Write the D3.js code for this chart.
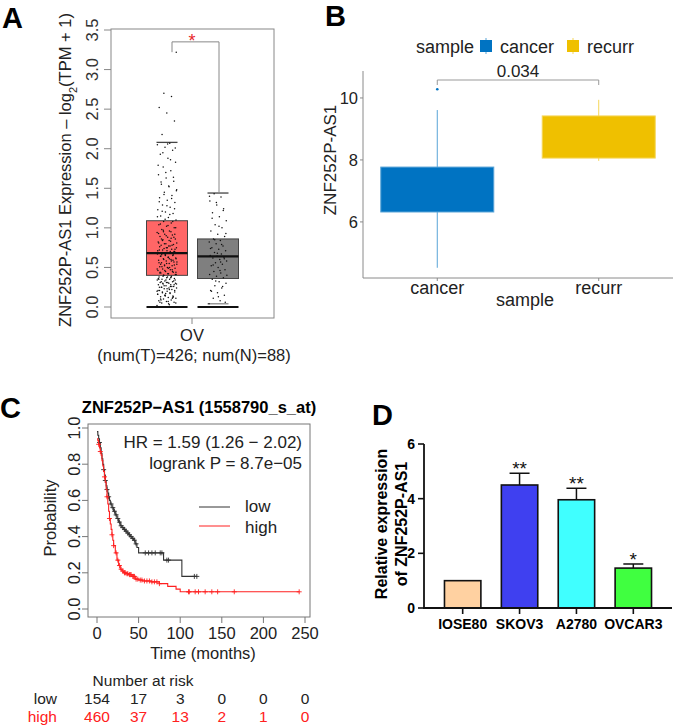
<!DOCTYPE html>
<html>
<head>
<meta charset="utf-8">
<script src="https://cdn.jsdelivr.net/npm/d3@7"></script>
<style>
  body { margin: 0; background: #fff; }
  svg { font-family: "Liberation Sans", Arial, sans-serif; }
</style>
</head>
<body>
<div id="fig"></div>
<script>
// ---- Panel A: GEPIA box plot ----
const groupsA = ['Tumor', 'Normal'];
const boxA = { // q1, median, q3, lower whisker, upper whisker
    Tumor:  [0.40, 0.68, 1.09, 0.00, 2.08],
    Normal: [0.36, 0.64, 0.86, 0.04, 1.44]
};
const tumorDots = [
    0.02,0.03,0.05,0.06,0.07,0.08,0.09,0.1,0.11,0.12,0.13,0.14,0.15,0.16,0.17,0.18,0.19,0.2,0.21,0.22,
    0.23,0.24,0.24,0.25,0.26,0.27,0.28,0.28,0.29,0.3,0.31,0.31,0.32,0.33,0.34,0.35,0.35,0.36,0.37,0.38,
    0.39,0.4,0.41,0.42,0.43,0.44,0.45,0.46,0.47,0.48,0.49,0.5,0.51,0.52,0.53,0.54,0.55,0.56,0.57,0.58,
    0.59,0.6,0.61,0.62,0.63,0.64,0.65,0.66,0.67,0.68,0.69,0.7,0.71,0.72,0.73,0.74,0.75,0.77,0.78,0.79,
    0.8,0.82,0.83,0.85,0.86,0.88,0.89,0.91,0.92,0.94,0.96,0.98,1.0,1.02,1.04,1.06,1.08,1.1,1.13,1.15,
    1.18,1.2,1.23,1.26,1.29,1.32,1.35,1.38,1.41,1.45,1.48,1.52,1.55,1.59,1.63,1.67,1.72,1.77,1.83,1.88,
    1.93,1.98,2.02,2.05,2.07,2.18,2.35,2.45,2.52,2.66,2.7,3.22,
    0.04,0.09,0.13,0.17,0.21,0.26,0.3,0.34,0.38,0.43,0.47,0.52,0.57,0.61,0.66,0.7,0.75,0.81,0.87,0.95,
    0.05,0.07,0.1,0.12,0.14,0.16,0.18,0.19,0.21,0.23,0.25,0.26,0.27,0.29,0.3,0.32,0.33,0.34,0.36,0.37,
    0.39,0.41,0.42,0.44,0.45,0.46,0.48,0.5,0.51,0.53,0.55,0.56,0.58,0.6,0.61,0.63,0.64,0.66,0.67,0.69,
    0.7,0.72,0.73,0.75,0.76,0.78,0.8,0.81,0.84,0.86,0.88,0.9,0.93,0.95,0.97,1.0,1.03,1.05,1.08,1.11,
    1.14,1.17,1.21,1.24,1.28,1.33,1.37,1.42,1.47,1.53,1.58,1.64,1.7,1.79,1.86,1.95,2.01,2.06,
    0.06,0.11,0.15,0.2,0.22,0.25,0.28,0.31,0.35,0.38,0.4,0.44,0.49,0.54,0.59,0.65,0.71,0.77,0.84,0.92
];
const normalDots = [
    0.04,0.08,0.11,0.15,0.18,0.21,0.24,0.27,0.3,0.32,0.35,0.37,0.39,0.41,0.43,0.45,0.47,0.5,0.52,0.54,
    0.56,0.58,0.6,0.62,0.63,0.64,0.65,0.67,0.69,0.71,0.73,0.75,0.77,0.8,0.82,0.84,0.86,0.89,0.92,0.96,
    1.0,1.04,1.09,1.14,1.19,1.24,1.29,1.34,1.39,1.43,
    0.06,0.13,0.2,0.26,0.33,0.4,0.46,0.53,0.61,0.68,0.74,0.79,0.85,0.93,1.02,1.12,1.22,1.32,1.4,0.57
];
const ticksA = [0, 0.5, 1, 1.5, 2, 2.5, 3, 3.5];

// ---- Panel B: cancer vs recurr ----
const groupsB = ['cancer', 'recurr'];
const boxB = { // q1, median, q3, lower whisker, upper whisker
    cancer: [6.32, 7.0, 7.77, 4.52, 9.61],
    recurr: [8.06, 8.7, 9.42, 7.97, 9.94]
};
const outliersB = { cancer: [10.28], recurr: [] };
const colorsB = { cancer: '#0073C2', recurr: '#EFC000' };
const ticksB = [6, 8, 10];
const pValueB = '0.034';

// ---- Panel C: Kaplan-Meier ----
const lowTimes = [0,1,2,3,4,5,6,7,8,9,10,11,12,13,14,15,16,18,20,22,24,26,28,30,32,34,36,38,40,42,44,46,48,50,80,102,120];
const lowSurv  = [0.98,0.96,0.94,0.92,0.89,0.86,0.83,0.8,0.77,0.74,0.71,0.68,0.66,0.64,0.62,0.6,0.58,0.56,0.54,0.52,0.5,0.48,0.46,0.45,0.44,0.43,0.42,0.41,0.4,0.39,0.38,0.36,0.34,0.31,0.27,0.18,0.18];
const highTimes = [0,1,2,3,4,5,6,7,8,9,10,11,12,13,14,15,16,17,18,19,20,22,24,26,28,30,32,35,38,42,46,50,55,65,75,85,95,100,243];
const highSurv  = [0.94,0.93,0.91,0.89,0.87,0.85,0.82,0.79,0.76,0.73,0.7,0.66,0.62,0.58,0.54,0.5,0.47,0.44,0.41,0.38,0.35,0.31,0.27,0.24,0.22,0.21,0.2,0.195,0.19,0.18,0.165,0.16,0.155,0.15,0.14,0.125,0.11,0.095,0.095];
const lowCensor  = [3,8,10,12,14,17,19,21,23,25,27,29,31,33,35,37,39,41,43,45,47,58,62,66,70,76,78,84,86,117,120];
const highCensor = [2,4,9,12,15,18,20,23,25,27,29,31,33,34,36,37,39,40,41,43,44,45,47,49,52,54,57,60,63,66,69,72,75,110,111,118,122,130,138,145,165,243];
const ticksCx = [0, 50, 100, 150, 200, 250];
const ticksCy = [0, 0.2, 0.4, 0.6, 0.8, 1.0];
const riskLow  = [154, 17, 3, 0, 0, 0];
const riskHigh = [460, 37, 13, 2, 1, 0];

// ---- Panel D: qPCR bars ----
const cellLines = ['IOSE80', 'SKOV3', 'A2780', 'OVCAR3'];
const relExpr   = [1.0, 4.5, 3.96, 1.46];
const relErr    = [0, 0.43, 0.42, 0.15];
const sigMarks  = ['', '**', '**', '*'];
const barColors = ['#FFD1A1', '#3F40F0', '#40FFFF', '#40FF40'];
const ticksD = [0, 2, 4, 6];

const svg = d3.select('#fig').append('svg')
    .attr('width', 685)
    .attr('height', 727);

// panel letters
[['A', 2, 28], ['B', 325, 26], ['C', 0, 418], ['D', 372, 425]].forEach(([t, x, y]) => {
    svg.append('text').attr('x', x).attr('y', y)
        .style('font-size', '29px').style('font-weight', 'bold').text(t);
});

// ================= Panel A =================
(function() {
    const g = svg.append('g');
    const y = d3.scaleLinear().domain([0, 3.5]).range([307, 30]);
    const x = d3.scalePoint().domain(groupsA).range([167, 218]);
    const half = 20.5;
    const fills = { Tumor: '#FF6666', Normal: '#7F7F7F' };

    g.append('rect').attr('x', 111).attr('y', 29).attr('width', 163).attr('height', 289)
        .attr('fill', 'none').attr('stroke', '#888').attr('stroke-width', 1);

    // y axis ticks
    ticksA.forEach(t => {
        g.append('line').attr('x1', 104).attr('x2', 111).attr('y1', y(t)).attr('y2', y(t))
            .attr('stroke', '#888');
        g.append('text')
            .attr('transform', `translate(98,${y(t)}) rotate(-90)`)
            .attr('text-anchor', 'middle')
            .style('font-size', '16.5px').attr('fill', '#333')
            .text(d3.format('.1f')(t));
    });

    const yl = g.append('text')
        .attr('transform', 'translate(71,170) rotate(-90)')
        .attr('text-anchor', 'middle')
        .style('font-size', '16.5px').attr('fill', '#222');
    yl.append('tspan').text('ZNF252P-AS1 Expression \u2013 log');
    yl.append('tspan').attr('baseline-shift', 'sub').style('font-size', '11px').text('2');
    yl.append('tspan').text('(TPM + 1)');

    groupsA.forEach(k => {
        const [q1, med, q3, lo, hi] = boxA[k];
        const cx = x(k);
        g.append('rect').attr('x', cx - half).attr('width', half * 2)
            .attr('y', y(q3)).attr('height', y(q1) - y(q3))
            .attr('fill', fills[k]).attr('stroke', '#444').attr('stroke-width', 1);
        g.append('line').attr('x1', cx - half).attr('x2', cx + half)
            .attr('y1', y(med)).attr('y2', y(med)).attr('stroke', '#111').attr('stroke-width', 2.2);
        // whisker caps
        g.append('line').attr('x1', cx - 10.5).attr('x2', cx + 10.5)
            .attr('y1', y(hi)).attr('y2', y(hi)).attr('stroke', '#444').attr('stroke-width', 1.3);
        g.append('line').attr('x1', cx - 10.5).attr('x2', cx + 10.5)
            .attr('y1', y(lo)).attr('y2', y(lo)).attr('stroke', '#666').attr('stroke-width', 1);
        // zero baseline
        g.append('line').attr('x1', cx - half).attr('x2', cx + half)
            .attr('y1', y(0)).attr('y2', y(0)).attr('stroke', '#111').attr('stroke-width', 2.2);
    });

    // jittered points
    const dots = (vals, k, w) => {
        g.selectAll(null).data(vals).enter().append('circle')
            .attr('cx', (d, i) => x(k) + (((i * 0.6180339) % 1) - 0.5) * w)
            .attr('cy', d => y(d))
            .attr('r', 0.75)
            .attr('fill', '#111');
    };
    dots(tumorDots, 'Tumor', 20);
    dots(normalDots, 'Normal', 18);

    // significance bracket
    const bx1 = 172, bx2 = 219;
    g.append('path')
        .attr('d', `M${bx1},${y(3.22)}V${y(3.35)}H${bx2}V${y(boxA.Normal[4])}`)
        .attr('fill', 'none').attr('stroke', '#888').attr('stroke-width', 1);
    g.append('text').attr('x', 192).attr('y', 47).attr('text-anchor', 'middle')
        .style('font-size', '18px').attr('fill', '#E8262B').text('*');

    g.append('line').attr('x1', 192).attr('x2', 192).attr('y1', 318).attr('y2', 324).attr('stroke', '#888');
    g.append('text').attr('x', 192).attr('y', 341).attr('text-anchor', 'middle')
        .style('font-size', '16.5px').attr('fill', '#222').text('OV');
    g.append('text').attr('x', 194).attr('y', 361).attr('text-anchor', 'middle')
        .style('font-size', '16.5px').attr('fill', '#222').text('(num(T)=426; num(N)=88)');
})();

// ================= Panel B =================
(function() {
    const g = svg.append('g');
    const y = d3.scaleLinear().domain([4.19, 10.87]).range([278, 71]);
    const x = d3.scalePoint().domain(groupsB).range([363, 673]).padding(0.46);
    const half = 56.5;

    g.append('line').attr('x1', 363).attr('x2', 363).attr('y1', 71).attr('y2', 278).attr('stroke', '#8a8a8a');
    g.append('line').attr('x1', 363).attr('x2', 673).attr('y1', 278).attr('y2', 278).attr('stroke', '#8a8a8a');

    ticksB.forEach(t => {
        g.append('line').attr('x1', 360).attr('x2', 363).attr('y1', y(t)).attr('y2', y(t)).attr('stroke', '#8a8a8a');
        g.append('text').attr('x', 358).attr('y', y(t) + 6).attr('text-anchor', 'end')
            .style('font-size', '16.5px').attr('fill', '#222').text(t);
    });

    groupsB.forEach(k => {
        const [q1, med, q3, lo, hi] = boxB[k];
        const cx = x(k);
        const c = colorsB[k];
        const light = d3.interpolateRgb(c, '#fff')(0.35);
        g.append('line').attr('x1', cx).attr('x2', cx).attr('y1', y(lo)).attr('y2', y(hi))
            .attr('stroke', light).attr('stroke-width', 1);
        g.append('rect').attr('x', cx - half).attr('width', half * 2)
            .attr('y', y(q3)).attr('height', y(q1) - y(q3))
            .attr('fill', c).attr('stroke', light).attr('stroke-width', 1);
        g.selectAll(null).data(outliersB[k]).enter().append('circle')
            .attr('cx', cx).attr('cy', d => y(d)).attr('r', 1.3).attr('fill', c);
        g.append('line').attr('x1', cx).attr('x2', cx).attr('y1', 278).attr('y2', 281).attr('stroke', '#8a8a8a');
        g.append('text').attr('x', cx).attr('y', 294).attr('text-anchor', 'middle')
            .style('font-size', '18px').attr('fill', '#222').text(k);
    });

    // p-value bracket
    const b1 = x('cancer'), b2 = x('recurr');
    g.append('path').attr('d', `M${b1},85V80H${b2}V85`)
        .attr('fill', 'none').attr('stroke', '#999').attr('stroke-width', 1);
    g.append('text').attr('x', (b1 + b2) / 2).attr('y', 77).attr('text-anchor', 'middle')
        .style('font-size', '17px').attr('fill', '#222').text(pValueB);

    g.append('text').attr('x', 525).attr('y', 306).attr('text-anchor', 'middle')
        .style('font-size', '18px').attr('fill', '#222').text('sample');
    g.append('text').attr('transform', 'translate(336,160) rotate(-90)').attr('text-anchor', 'middle')
        .style('font-size', '17px').attr('fill', '#222').text('ZNF252P-AS1');

    // legend
    g.append('text').attr('x', 416).attr('y', 53).style('font-size', '18px').attr('fill', '#222').text('sample');
    const keys = [['cancer', 480, 500], ['recurr', 567, 587]];
    keys.forEach(([k, kx, tx]) => {
        g.append('line').attr('x1', kx + 6).attr('x2', kx + 6).attr('y1', 38).attr('y2', 54)
            .attr('stroke', d3.interpolateRgb(colorsB[k], '#fff')(0.35));
        g.append('rect').attr('x', kx).attr('y', 40).attr('width', 12).attr('height', 12).attr('fill', colorsB[k]);
        g.append('text').attr('x', tx).attr('y', 53).style('font-size', '18px').attr('fill', '#222').text(k);
    });
})();

// ================= Panel C =================
(function() {
    const g = svg.append('g');
    const x = d3.scaleLinear().domain([0, 250]).range([97, 305]);
    const y = d3.scaleLinear().domain([0, 1]).range([609, 428]);

    g.append('text').attr('x', 199).attr('y', 413).attr('text-anchor', 'middle')
        .style('font-size', '16.5px').style('font-weight', 'bold').text('ZNF252P\u2212AS1 (1558790_s_at)');

    g.append('rect').attr('x', 88).attr('y', 424).attr('width', 222).attr('height', 193)
        .attr('fill', 'none').attr('stroke', '#777').attr('stroke-width', 1);

    ticksCx.forEach(t => {
        g.append('line').attr('x1', x(t)).attr('x2', x(t)).attr('y1', 617).attr('y2', 623).attr('stroke', '#777');
        g.append('text').attr('x', x(t)).attr('y', 639).attr('text-anchor', 'middle')
            .style('font-size', '16.5px').attr('fill', '#222').text(t);
    });
    ticksCy.forEach(t => {
        g.append('line').attr('x1', 82).attr('x2', 88).attr('y1', y(t)).attr('y2', y(t)).attr('stroke', '#777');
        g.append('text').attr('transform', `translate(80,${y(t)}) rotate(-90)`).attr('text-anchor', 'middle')
            .style('font-size', '16.5px').attr('fill', '#222').text(d3.format('.1f')(t));
    });
    g.append('text').attr('transform', 'translate(56,518) rotate(-90)').attr('text-anchor', 'middle')
        .style('font-size', '16.5px').attr('fill', '#222').text('Probability');
    g.append('text').attr('x', 203).attr('y', 659).attr('text-anchor', 'middle')
        .style('font-size', '16.5px').attr('fill', '#222').text('Time (months)');

    const curve = (times, surv, color, censor) => {
        const pts = times.map((t, i) => [t, surv[i]]);
        const line = d3.line().x(d => x(d[0])).y(d => y(d[1])).curve(d3.curveStepAfter);
        g.append('path').datum(pts).attr('d', line)
            .attr('fill', 'none').attr('stroke', color).attr('stroke-width', 1.1);
        const stepAt = t => {
            const i = d3.bisectRight(times, t) - 1;
            return surv[Math.max(0, i)];
        };
        g.selectAll(null).data(censor).enter().append('path')
            .attr('d', d => `M${x(d) - 2.5},${y(stepAt(d))}h5M${x(d)},${y(stepAt(d)) - 2.5}v5`)
            .attr('stroke', color).attr('stroke-width', 0.9);
    };
    curve(lowTimes, lowSurv, '#333', lowCensor);
    curve(highTimes, highSurv, '#FF2020', highCensor);

    g.append('text').attr('x', 302).attr('y', 448).attr('text-anchor', 'end')
        .style('font-size', '17px').attr('fill', '#222').text('HR = 1.59 (1.26 \u2212 2.02)');
    g.append('text').attr('x', 302).attr('y', 469).attr('text-anchor', 'end')
        .style('font-size', '17px').attr('fill', '#222').text('logrank P = 8.7e\u221205');

    [['low', '#333', 507, 512], ['high', '#FF2020', 526, 533]].forEach(([lab, c, ly, ty]) => {
        g.append('line').attr('x1', 199).attr('x2', 230).attr('y1', ly).attr('y2', ly).attr('stroke', c);
        g.append('text').attr('x', 245).attr('y', ty).style('font-size', '17px').attr('fill', '#222').text(lab);
    });

    // number at risk table
    g.append('text').attr('x', 143).attr('y', 686).attr('text-anchor', 'middle')
        .style('font-size', '15.5px').attr('fill', '#222').text('Number at risk');
    [['low', riskLow, '#222', 704], ['high', riskHigh, '#FF2020', 722]].forEach(([lab, vals, c, ry]) => {
        g.append('text').attr('x', 57).attr('y', ry).attr('text-anchor', 'end')
            .style('font-size', '15.5px').attr('fill', c).text(lab);
        g.selectAll(null).data(vals).enter().append('text')
            .attr('x', (d, i) => x(ticksCx[i]))
            .attr('y', ry)
            .attr('text-anchor', 'middle')
            .style('font-size', '15.5px').attr('fill', c)
            .text(d => d);
    });
})();

// ================= Panel D =================
(function() {
    const g = svg.append('g');
    const y = d3.scaleLinear().domain([0, 6]).range([608, 444]);
    const x = d3.scaleBand().domain(cellLines).range([424, 672]).padding(0.36);

    cellLines.forEach((k, i) => {
        const bx = x(k), bw = x.bandwidth(), cx = bx + bw / 2;
        if (relErr[i] > 0) {
            g.append('line').attr('x1', cx).attr('x2', cx)
                .attr('y1', y(relExpr[i])).attr('y2', y(relExpr[i] + relErr[i]))
                .attr('stroke', '#111').attr('stroke-width', 1.5);
            g.append('line').attr('x1', cx - 10).attr('x2', cx + 10)
                .attr('y1', y(relExpr[i] + relErr[i])).attr('y2', y(relExpr[i] + relErr[i]))
                .attr('stroke', '#111').attr('stroke-width', 1.5);
        }
        g.append('rect').attr('x', bx).attr('width', bw)
            .attr('y', y(relExpr[i])).attr('height', y(0) - y(relExpr[i]))
            .attr('fill', barColors[i]).attr('stroke', '#111').attr('stroke-width', 1.6);
        g.append('text').attr('x', cx).attr('y', y(relExpr[i] + relErr[i]) + 2)
            .attr('text-anchor', 'middle').style('font-size', '19px').attr('fill', '#111')
            .text(sigMarks[i]);
        g.append('line').attr('x1', cx).attr('x2', cx).attr('y1', 608).attr('y2', 614)
            .attr('stroke', '#111').attr('stroke-width', 1.6);
        g.append('text').attr('x', cx).attr('y', 629).attr('text-anchor', 'middle')
            .style('font-size', '14px').style('font-weight', 'bold').text(k);
    });

    g.append('line').attr('x1', 424).attr('x2', 424).attr('y1', 444).attr('y2', 608)
        .attr('stroke', '#111').attr('stroke-width', 1.8);
    g.append('line').attr('x1', 423).attr('x2', 672).attr('y1', 608).attr('y2', 608)
        .attr('stroke', '#111').attr('stroke-width', 1.8);
    ticksD.forEach(t => {
        g.append('line').attr('x1', 418).attr('x2', 424).attr('y1', y(t)).attr('y2', y(t))
            .attr('stroke', '#111').attr('stroke-width', 1.6);
        g.append('text').attr('x', 415).attr('y', y(t) + 5).attr('text-anchor', 'end')
            .style('font-size', '14px').style('font-weight', 'bold').text(t);
    });
    g.append('text').attr('transform', 'translate(387,524) rotate(-90)').attr('text-anchor', 'middle')
        .style('font-size', '16px').style('font-weight', 'bold').text('Relative expression');
    g.append('text').attr('transform', 'translate(407,524) rotate(-90)').attr('text-anchor', 'middle')
        .style('font-size', '16px').style('font-weight', 'bold').text('of ZNF252P-AS1');
})();
</script>
</body>
</html>
